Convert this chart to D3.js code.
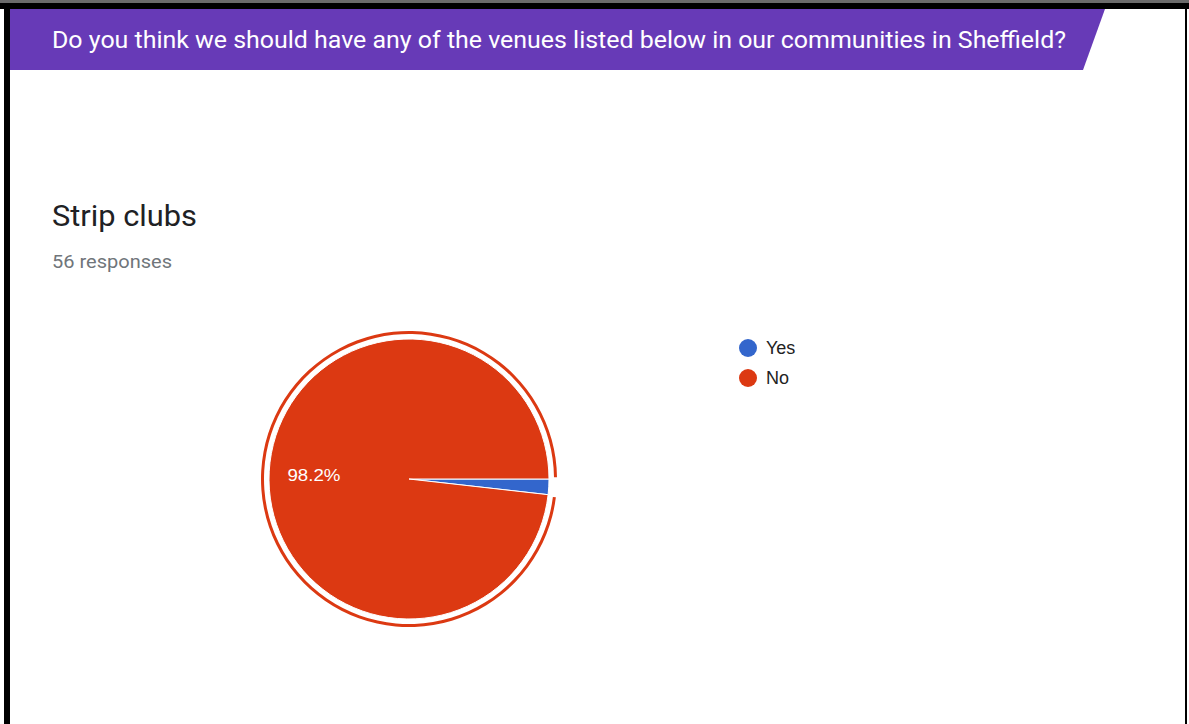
<!DOCTYPE html>
<html><head><meta charset="utf-8">
<script src="https://cdn.jsdelivr.net/npm/d3@7"></script>
<style>html,body{margin:0;padding:0;background:#fff;overflow:hidden}svg{display:block}</style>
</head><body>
<script>
const questionTitle = "Do you think we should have any of the venues listed below in our communities in Sheffield?";
const chartTitle = "Strip clubs";
const responsesLabel = "56 responses";
const categories = ["Yes", "No"];
const counts = [1, 55];
const colors = ["#3366cc", "#dc3912"];

const W = 1189, H = 724;
const svg = d3.select("body").append("svg").attr("width", W).attr("height", H);
svg.append("rect").attr("width", W).attr("height", H).attr("fill", "#fff");

// frame
svg.append("rect").attr("x", 0).attr("y", 0).attr("width", W).attr("height", 3).attr("fill", "#6b6b6b");
svg.append("rect").attr("x", 0).attr("y", 3).attr("width", W).attr("height", 6).attr("fill", "#000");
svg.append("rect").attr("x", 4).attr("y", 3).attr("width", 6).attr("height", H).attr("fill", "#000");
svg.append("rect").attr("x", 1185).attr("y", 3).attr("width", 2).attr("height", H).attr("fill", "#000");

// banner
svg.append("path").attr("d", "M10,9 L1105,9 L1083,70 L10,70 Z").attr("fill", "#673ab7");
svg.append("text").attr("x", 52).attr("y", 48).text(questionTitle)
  .attr("fill", "#fff").attr("font-family", "Roboto").attr("font-size", 24)
  .attr("textLength", 1014).attr("lengthAdjust", "spacingAndGlyphs");

svg.append("text").attr("x", 52).attr("y", 226).text(chartTitle)
  .attr("fill", "#202124").attr("font-family", "Roboto").attr("font-size", 30)
  .attr("textLength", 145).attr("lengthAdjust", "spacingAndGlyphs");
svg.append("text").attr("x", 52).attr("y", 268).text(responsesLabel)
  .attr("fill", "#70757a").attr("font-family", "Roboto").attr("font-size", 19)
  .attr("textLength", 120).attr("lengthAdjust", "spacingAndGlyphs");

// pie
const cx = 409, cy = 479, R = 140;
const total = d3.sum(counts);
const pie = d3.pie().sort(null).startAngle(Math.PI / 2).endAngle(Math.PI / 2 + 2 * Math.PI);
const arcs = pie(counts);
const arc = d3.arc().innerRadius(0).outerRadius(R);
const g = svg.append("g").attr("transform", `translate(${cx},${cy})`);
g.selectAll("path.slice").data(arcs).join("path").attr("class", "slice")
  .attr("d", arc).attr("fill", (d, i) => colors[i]).attr("stroke", "#fff").attr("stroke-width", 1);

// highlight ring on "No"
const no = arcs[1];
g.append("path").attr("d", d3.arc().innerRadius(R + 5).outerRadius(R + 8)
  .startAngle(no.startAngle + 0.012).endAngle(no.endAngle - 0.012)())
  .attr("fill", colors[1]);

// label
const labelArc = d3.arc().innerRadius(R * 0.68).outerRadius(R * 0.68);
const [lx, ly] = labelArc.centroid(no);
g.append("text").attr("x", lx).attr("y", ly + 1).attr("text-anchor", "middle").attr("dy", "0.35em")
  .text(d3.format(".1%")(counts[1] / total))
  .attr("fill", "#fff").attr("font-family", "Arial, Liberation Sans").attr("font-size", 17)
  .attr("textLength", 53).attr("lengthAdjust", "spacingAndGlyphs");

// legend
const lg = svg.append("g");
categories.forEach((c, i) => {
  lg.append("circle").attr("cx", 748).attr("cy", 348 + i * 30).attr("r", 9).attr("fill", colors[i]);
  lg.append("text").attr("x", 766).attr("y", 354 + i * 30).text(c)
    .attr("fill", "#222").attr("font-family", "Arial, Liberation Sans").attr("font-size", 18);
});
</script>
</body></html>
